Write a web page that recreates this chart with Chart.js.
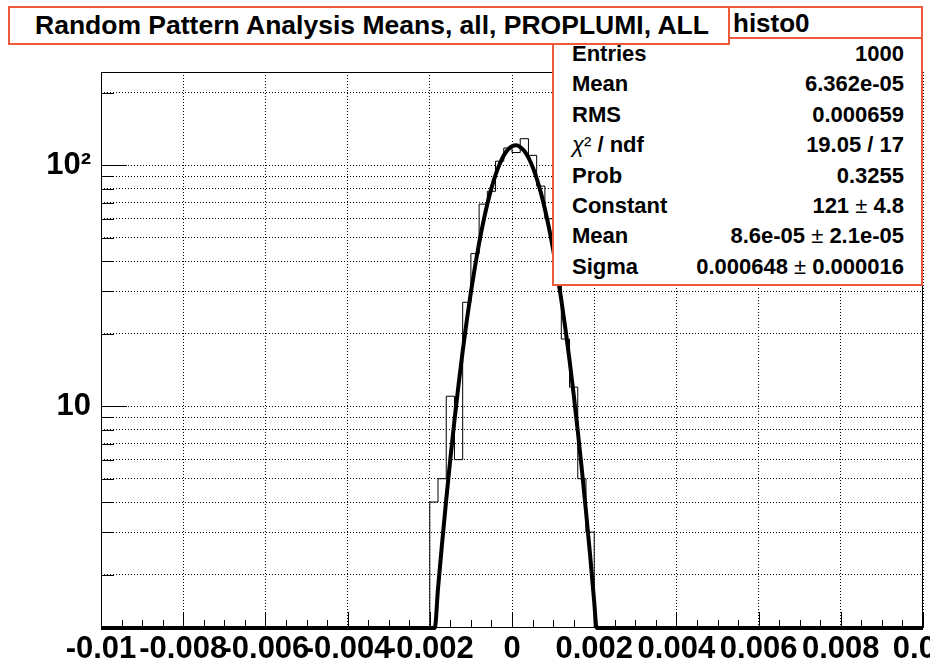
<!DOCTYPE html>
<html>
<head>
<meta charset="utf-8">
<title>Random Pattern Analysis Means</title>
<script src="https://cdn.jsdelivr.net/npm/chart.js@4/dist/chart.umd.min.js"></script>
<style>
  html, body { margin: 0; padding: 0; background: #fff; }
  #wrap { position: relative; width: 930px; height: 664px; overflow: hidden; }
  #plot { position: absolute; left: 0; top: 0; }
  .box { position: absolute; box-sizing: border-box; border: 2px solid #ee5a3c; background: #fff;
         font-family: "Liberation Sans", Arial, Helvetica, sans-serif; font-weight: bold; color: #000; }
  #title { left: 8px; top: 6px; width: 722px; height: 39px; z-index: 3; }
  #title span { position: absolute; left: 25px; top: 0; line-height: 35px; font-size: 26.5px; white-space: nowrap; }
  #stats { left: 552px; top: 6px; width: 371px; height: 280px; z-index: 2; }
  #stats .head { position: absolute; left: 0; top: 0; right: 0; height: 29px; border-bottom: 2px solid #ee5a3c; }
  #stats .head span { position: absolute; left: 179px; top: 0; line-height: 31px; font-size: 26px; }
  #stats .row { position: absolute; left: 18px; right: 17px; height: 26px; line-height: 26px; font-size: 22px; white-space: nowrap; }
  #stats .row .k { position: absolute; left: 0; }
  #stats .row .v { position: absolute; right: 0; }
  .thin { font-weight: normal; }
  .greek { font-weight: normal; font-style: italic; }
</style>
</head>
<body>
<div id="wrap">
  <canvas id="plot" width="930" height="664"></canvas>
  <div class="box" id="title"><span>Random Pattern Analysis Means, all, PROPLUMI, ALL</span></div>
  <div class="box" id="stats"><div class="head"><span>histo0</span></div></div>
</div>
<script>
// Histogram: low edge of each filled bin and its count
const binWidth = 0.0002;
const binLow = [-0.0020, -0.0018, -0.0016, -0.0014, -0.0012, -0.0010, -0.0008, -0.0006, -0.0004, -0.0002,
                 0.0000,  0.0002,  0.0004,  0.0006,  0.0008,  0.0010,  0.0012,  0.0014,  0.0016,  0.0018];
const counts = [4, 5, 11, 6, 27, 43, 69, 78, 104, 118, 113, 129, 110, 82, 60, 32, 19, 12, 5, 3];

// Gaussian fit curve (runs along the bottom of the frame outside the peak)
const fitX = [-0.01, -0.00188,
  -0.0018, -0.0017, -0.0016, -0.0015, -0.0014, -0.0013, -0.0012, -0.0011, -0.0010, -0.0009,
  -0.0008, -0.0007, -0.0006, -0.0005, -0.0004, -0.0003, -0.0002, -0.0001, 0.0000, 0.0001,
   0.0002,  0.0003,  0.0004,  0.0005,  0.0006,  0.0007,  0.0008,  0.0009, 0.0010, 0.0011,
   0.0012,  0.0013,  0.0014,  0.0015,  0.0016,  0.0017,  0.0018,  0.0019, 0.0020,
   0.00206, 0.01];
const fitY = [1.2, 1.2,
  1.75, 2.71, 4.10, 6.05, 8.73, 12.3, 16.9, 22.7, 29.7, 38.0,
  47.5, 58.0, 69.1, 80.4, 91.3, 101.3, 109.8, 116.1, 119.9, 121.0,
  119.1, 114.6, 107.6, 98.6, 88.3, 77.2, 65.9, 55.0, 44.8, 35.6,
  27.6, 20.9, 15.5, 11.2, 7.90, 5.44, 3.66, 2.41, 1.54,
  1.2, 1.2];

// Axis ranges and ticks
const xRange = [-0.01, 0.01];
const yRange = [1.2, 244];
const xTicks = [-0.01, -0.008, -0.006, -0.004, -0.002, 0, 0.002, 0.004, 0.006, 0.008, 0.01];
const xTickLabels = ['-0.01', '-0.008', '-0.006', '-0.004', '-0.002', '0', '0.002', '0.004', '0.006', '0.008', '0.01'];
const yTicks = [2, 3, 4, 5, 6, 7, 8, 9, 10, 20, 30, 40, 50, 60, 70, 80, 90, 100, 200];
const yTickLabels = ['', '', '', '', '', '', '', '', '10', '', '', '', '', '', '', '', '', '10\u00B2', ''];

// Statistics box rows
const statNames = ['Entries', 'Mean', 'RMS', '<span class="greek">\u03C7</span><span class="thin">\u00B2</span> / ndf',
                   'Prob', 'Constant', 'Mean', 'Sigma'];
const statValues = ['1000', '6.362e-05', '0.000659', '19.05 / 17', '0.3255',
                    '121 <span class="thin">\u00B1</span> 4.8',
                    '8.6e-05 <span class="thin">\u00B1</span> 2.1e-05',
                    '0.000648 <span class="thin">\u00B1</span> 0.000016'];

const stats = document.getElementById('stats');
statNames.forEach((name, i) => {
  const row = document.createElement('div');
  row.className = 'row';
  row.style.top = (54 + i * 30.4 - 13 - 8) + 'px';
  row.innerHTML = '<span class="k">' + name + '</span><span class="v">' + statValues[i] + '</span>';
  stats.appendChild(row);
});

// Step outline of the histogram
const histPoints = [{ x: binLow[0], y: yRange[0] }];
binLow.forEach((x, i) => histPoints.push({ x: x, y: counts[i] }));
histPoints.push({ x: binLow[binLow.length - 1] + binWidth, y: yRange[0] });

const fitPoints = fitX.map((x, i) => ({ x: x, y: fitY[i] }));

const FONT = '"Liberation Sans", Arial, Helvetica, sans-serif';

// Frame and inward tick marks, drawn on top of the data
const frameAndTicks = {
  id: 'frameAndTicks',
  afterDatasetsDraw(chart) {
    const { ctx, chartArea: a, scales } = chart;
    const xs = scales.x, ys = scales.y;
    ctx.save();
    ctx.strokeStyle = '#000';
    ctx.lineWidth = 1;
    ctx.beginPath();
    ys.ticks.forEach(t => {
      const py = Math.round(ys.getPixelForValue(t.value)) + 0.5;
      const len = (t.value === 10 || t.value === 100) ? 26 : 13;
      ctx.moveTo(a.left, py); ctx.lineTo(a.left + len, py);
    });
    for (let k = 0; k <= 40; k++) {
      const v = xRange[0] + k * 0.0005;
      const px = Math.round(xs.getPixelForValue(v)) + 0.5;
      const len = (k % 4 === 0) ? 16 : 8;
      ctx.moveTo(px, a.bottom); ctx.lineTo(px, a.bottom - len);
    }
    ctx.stroke();
    ctx.strokeRect(a.left + 0.5, a.top + 0.5, a.right - a.left - 1, a.bottom - a.top - 1);
    ctx.restore();
  }
};

const whiteBg = {
  id: 'whiteBg',
  beforeDraw(chart) {
    const { ctx, width, height } = chart;
    ctx.save(); ctx.fillStyle = '#fff'; ctx.fillRect(0, 0, width, height); ctx.restore();
  }
};

new Chart(document.getElementById('plot'), {
  type: 'line',
  data: {
    datasets: [
      { label: 'histo0', data: histPoints, stepped: true, borderColor: '#000', borderWidth: 1,
        pointRadius: 0, fill: false, clip: 1 },
      { label: 'gaus', data: fitPoints, borderColor: '#000', borderWidth: 4, pointRadius: 0,
        cubicInterpolationMode: 'monotone', fill: false, clip: 3 }
    ]
  },
  options: {
    responsive: false,
    animation: false,
    events: [],
    layout: { padding: { top: 72, right: 7, left: 0, bottom: 0 } },
    plugins: { legend: { display: false }, tooltip: { enabled: false }, title: { display: false } },
    scales: {
      x: {
        type: 'linear', min: xRange[0], max: xRange[1],
        afterBuildTicks: s => { s.ticks = xTicks.map(v => ({ value: v })); },
        afterFit: s => { s.height = 36; s.paddingLeft = 0; s.paddingRight = 0; },
        ticks: { autoSkip: false, maxRotation: 0, minRotation: 0, padding: 3, color: '#000',
                 font: { family: FONT, size: 31, weight: 'bold' },
                 callback: (v, i) => xTickLabels[i] },
        grid: { drawTicks: false, color: '#000', lineWidth: 1 },
        border: { display: false, dash: [1, 2] }
      },
      y: {
        type: 'logarithmic', min: yRange[0], max: yRange[1],
        afterBuildTicks: s => { s.ticks = yTicks.map(v => ({ value: v })); },
        afterFit: s => { s.width = 101; s.paddingTop = 0; s.paddingBottom = 0; },
        ticks: { autoSkip: false, padding: 10, color: '#000',
                 font: { family: FONT, size: 31, weight: 'bold' },
                 callback: (v, i) => yTickLabels[i] },
        grid: { drawTicks: false, color: '#000', lineWidth: 1 },
        border: { display: false, dash: [1, 2] }
      }
    }
  },
  plugins: [whiteBg, frameAndTicks]
});
</script>
</body>
</html>
